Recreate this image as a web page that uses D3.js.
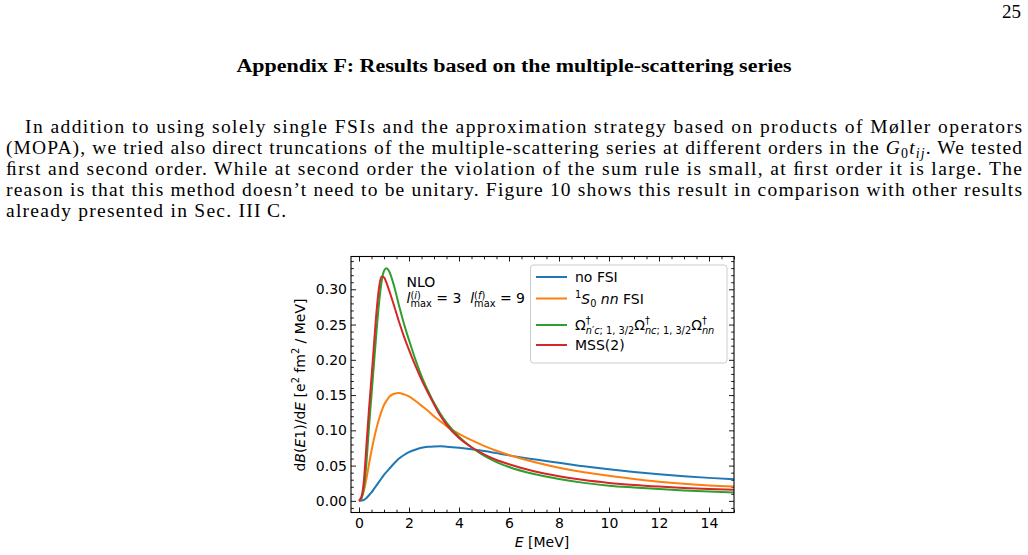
<!DOCTYPE html>
<html><head><meta charset="utf-8">
<script src="https://cdn.jsdelivr.net/npm/d3@7"></script>
<style>body{margin:0;background:#fff;} svg{display:block}</style>
</head><body>
<svg id="c" width="1028" height="555"></svg>
<script>
// ---------- data ----------
const energies = [0, 0.1, 0.2, 0.3, 0.4, 0.5, 0.6, 0.7, 0.8, 0.9, 1.0, 1.1, 1.2,
  1.4, 1.6, 1.8, 2.0, 2.25, 2.5, 2.75, 3.0, 3.25, 3.5,
  4.0, 4.5, 5.0, 5.5, 6.0, 7.0, 8.0, 9.0, 10.0, 11.0, 12.0, 13.0, 14.0, 15.0];
const noFSI = [0, 0.0004, 0.0015, 0.004, 0.008, 0.012, 0.017, 0.022, 0.027, 0.032, 0.037, 0.041, 0.045,
  0.053, 0.060, 0.065, 0.069, 0.0725, 0.0752, 0.0766, 0.0772, 0.0773, 0.0768,
  0.0753, 0.0733, 0.0707, 0.0677, 0.0645, 0.0590, 0.0540, 0.0490, 0.0447, 0.0410, 0.0378, 0.0350, 0.0326, 0.0305];
const s0FSI = [0, 0.004, 0.015, 0.032, 0.052, 0.071, 0.088, 0.103, 0.116, 0.127, 0.136, 0.142, 0.147,
  0.152, 0.153, 0.151, 0.148, 0.142, 0.135, 0.128, 0.120, 0.113, 0.106,
  0.095, 0.086, 0.078, 0.071, 0.065, 0.055, 0.047, 0.0405, 0.0355, 0.031, 0.0272, 0.0242, 0.0218, 0.0202];
const mopa = [0, 0.004, 0.020, 0.055, 0.105, 0.150, 0.195, 0.240, 0.280, 0.310, 0.326, 0.330, 0.326,
  0.305, 0.277, 0.251, 0.228, 0.201, 0.177, 0.157, 0.139, 0.124, 0.111,
  0.091, 0.076, 0.064, 0.055, 0.048, 0.038, 0.031, 0.0255, 0.0215, 0.019, 0.0168, 0.0148, 0.0132, 0.0120];
const mss2 = [0, 0.006, 0.030, 0.080, 0.130, 0.175, 0.222, 0.268, 0.302, 0.318, 0.317, 0.309, 0.299,
  0.277, 0.254, 0.233, 0.214, 0.192, 0.172, 0.154, 0.137, 0.121, 0.108,
  0.089, 0.076, 0.066, 0.058, 0.052, 0.042, 0.035, 0.0295, 0.0255, 0.0225, 0.0202, 0.0183, 0.0168, 0.0156];
const seriesColors = ["#1f77b4", "#ff7f0e", "#2ca02c", "#d62728"];
const xTicks = [0, 2, 4, 6, 8, 10, 12, 14];
const yTicks = [0.00, 0.05, 0.10, 0.15, 0.20, 0.25, 0.30];
const pageNumber = "25";
const heading = "Appendix F: Results based on the multiple-scattering series";
const bodyLines = [
  "In addition to using solely single FSIs and the approximation strategy based on products of M\u00f8ller operators",
  "(MOPA), we tried also direct truncations of the multiple-scattering series at different orders in the G0tij. We tested",
  "\ufb01rst and second order. While at second order the violation of the sum rule is small, at \ufb01rst order it is large. The",
  "reason is that this method doesn\u2019t need to be unitary. Figure 10 shows this result in comparison with other results",
  "already presented in Sec. III\u2009C."
];

// ---------- page ----------
const svg = d3.select("#c");
svg.append("rect").attr("width", 1028).attr("height", 555).attr("fill", "#fff");
const serif = "'Liberation Serif', 'DejaVu Serif', serif";
const sans = "'DejaVu Sans', sans-serif";

svg.append("text").attr("x", 1021).attr("y", 18).attr("text-anchor", "end")
  .attr("font-family", serif).attr("font-size", 19).text(pageNumber);
svg.append("text").attr("x", 514).attr("y", 72).attr("text-anchor", "middle")
  .attr("font-family", serif).attr("font-weight", "bold").attr("font-size", 18)
  .attr("textLength", 555).attr("lengthAdjust", "spacingAndGlyphs").text(heading);

const bodyX = [25, 6, 6, 6, 6];
const bodyY = [133, 154, 175, 196, 217];
let spacingRatio = [];
bodyLines.forEach((line, i) => {
  const t = svg.append("text").attr("x", bodyX[i]).attr("y", bodyY[i])
    .attr("font-family", serif).attr("font-size", 19.5).attr("fill", "#000");
  if (line.includes("G0tij")) {
    const [a, b] = line.split("G0tij");
    t.append("tspan").text(a);
    t.append("tspan").attr("font-style", "italic").text("G");
    t.append("tspan").attr("font-size", 14).attr("dy", 4).text("0");
    t.append("tspan").attr("font-style", "italic").attr("dy", -4).text("t");
    t.append("tspan").attr("font-style", "italic").attr("font-size", 14).attr("dy", 4).text("ij");
    t.append("tspan").attr("dy", -4).text(b);
  } else {
    t.text(line);
  }
  const natural = t.node().getComputedTextLength();
  if (i < 4) {
    const target = 1022 - bodyX[i];
    t.attr("textLength", target).attr("lengthAdjust", "spacing");
    spacingRatio.push((target - natural) / line.length);
  } else {
    t.attr("letter-spacing", d3.mean(spacingRatio));
  }
});

// ---------- chart ----------
const L = 351, R = 734, T = 256.5, B = 512.5;
const x = d3.scaleLinear().domain([-0.32, 15]).range([L, R]);
const y = d3.scaleLinear().domain([-0.0165, 0.3465]).range([B, T]);

function styleAxis(g) {
  g.select(".domain").remove();
  g.selectAll("line").attr("stroke", "#000").attr("stroke-width", 0.9);
  g.selectAll("text").attr("font-family", sans).attr("font-size", 14).attr("fill", "#000");
}
const xMinor = d3.range(0, 15.001, 0.5).filter(v => Math.abs(v / 2 - Math.round(v / 2)) > 1e-6);
const yMinor = d3.range(-1, 35).map(v => v / 100).filter(v => Math.round(v * 100) % 5 !== 0);

svg.append("g").attr("transform", `translate(0,${B})`)
  .call(d3.axisBottom(x).tickValues(xTicks).tickSizeInner(-5).tickSizeOuter(0).tickPadding(6).tickFormat(d3.format("d"))).call(styleAxis);
svg.append("g").attr("transform", `translate(0,${B})`)
  .call(d3.axisBottom(x).tickValues(xMinor).tickSizeInner(-2.8).tickSizeOuter(0).tickFormat("")).call(styleAxis);
svg.append("g").attr("transform", `translate(0,${T})`)
  .call(d3.axisTop(x).tickValues(xTicks).tickSizeInner(-5).tickSizeOuter(0).tickFormat("")).call(styleAxis);
svg.append("g").attr("transform", `translate(0,${T})`)
  .call(d3.axisTop(x).tickValues(xMinor).tickSizeInner(-2.8).tickSizeOuter(0).tickFormat("")).call(styleAxis);
svg.append("g").attr("transform", `translate(${L},0)`)
  .call(d3.axisLeft(y).tickValues(yTicks).tickSizeInner(-5).tickSizeOuter(0).tickPadding(4).tickFormat(d3.format(".2f"))).call(styleAxis);
svg.append("g").attr("transform", `translate(${L},0)`)
  .call(d3.axisLeft(y).tickValues(yMinor).tickSizeInner(-2.8).tickSizeOuter(0).tickFormat("")).call(styleAxis);
svg.append("g").attr("transform", `translate(${R},0)`)
  .call(d3.axisRight(y).tickValues(yTicks).tickSizeInner(-5).tickSizeOuter(0).tickFormat("")).call(styleAxis);
svg.append("g").attr("transform", `translate(${R},0)`)
  .call(d3.axisRight(y).tickValues(yMinor).tickSizeInner(-2.8).tickSizeOuter(0).tickFormat("")).call(styleAxis);

svg.append("clipPath").attr("id", "clip").append("rect")
  .attr("x", L).attr("y", T).attr("width", R - L).attr("height", B - T);

const allSeries = [noFSI, s0FSI, mopa, mss2];
const line = d3.line().x((d, i) => x(energies[i])).y(d => y(d)).curve(d3.curveMonotoneX);
allSeries.forEach((s, k) => {
  svg.append("path").datum(s).attr("d", line).attr("fill", "none")
    .attr("stroke", seriesColors[k]).attr("stroke-width", 2).attr("clip-path", "url(#clip)");
});

svg.append("rect").attr("x", L).attr("y", T).attr("width", R - L).attr("height", B - T)
  .attr("fill", "none").attr("stroke", "#000").attr("stroke-width", 1.1);

// math text helper: one <text> element, tspans positioned absolutely
function mathText(parent, x0, y0, pieces, base, anchor) {
  const g = parent.append("g");
  const txt = g.append("text").attr("font-family", sans).attr("font-size", base).attr("fill", "#000");
  let cx = 0, maxX = 0, markX = 0;
  pieces.forEach(p => {
    const scr = p.sup || p.sub;
    if (!scr) cx = maxX;
    if (p.back) cx = markX;
    if (p.mark) markX = cx;
    const size = scr ? base * 0.7 : base;
    let dy = p.sup ? -base * 0.42 : p.sub ? base * 0.25 : 0;
    if (p.dy !== undefined) dy = p.dy;
    const ts = txt.append("tspan").attr("x", cx).attr("y", dy)
      .attr("font-size", size)
      .attr("font-style", p.it ? "italic" : "normal").text(p.t.replace(/ /g, "\u00a0"));
    cx += ts.node().getComputedTextLength();
    maxX = Math.max(maxX, cx);
  });
  const shift = anchor === "middle" ? -maxX / 2 : 0;
  g.attr("transform", `translate(${x0 + shift},${y0})`);
  return g;
}

// axis labels
mathText(svg, 542, 547, [{t: "E", it: true}, {t: " [MeV]"}], 14, "middle");
const yl = svg.append("g").attr("transform", "translate(305,385) rotate(-90)");
mathText(yl, 0, 0, [{t: "d"}, {t: "B", it: true}, {t: "("}, {t: "E", it: true}, {t: "1)/d"}, {t: "E", it: true},
  {t: " [e"}, {t: "2", sup: true}, {t: " fm"}, {t: "2", sup: true}, {t: " / MeV]"}], 14, "middle");

// annotation
mathText(svg, 406.5, 287, [{t: "NLO"}], 14);
mathText(svg, 406.5, 303, [
  {t: "l", it: true}, {t: "(", sup: true, mark: true, dy: -4.5}, {t: "i", sup: true, it: true, dy: -4.5}, {t: ")", sup: true, dy: -4.5},
  {t: "max", sub: true, back: true, dy: 4},
  {t: " = 3  "},
  {t: "l", it: true}, {t: "(", sup: true, mark: true, dy: -4.5}, {t: "f", sup: true, it: true, dy: -4.5}, {t: ")", sup: true, dy: -4.5},
  {t: "max", sub: true, back: true, dy: 4},
  {t: " = 9"}], 14);

// legend
svg.append("rect").attr("x", 530.5).attr("y", 265).attr("width", 196.5).attr("height", 98)
  .attr("rx", 3).attr("fill", "#fff").attr("fill-opacity", 0.8).attr("stroke", "#cccccc").attr("stroke-width", 1);
const legendY = [277, 298.5, 325, 345];
const legendLabels = [
  [{t: "no FSI"}],
  [{t: "1", sup: true}, {t: "S", it: true}, {t: "0", sub: true}, {t: " "}, {t: "nn", it: true}, {t: " FSI"}],
  [{t: "\u03a9"}, {t: "\u2020", sup: true, mark: true}, {t: "n", sub: true, back: true, it: true}, {t: "\u2032", sub: true},
   {t: "c", sub: true, it: true}, {t: "; 1, 3/2", sub: true},
   {t: "\u03a9"}, {t: "\u2020", sup: true, mark: true}, {t: "nc", sub: true, back: true, it: true}, {t: "; 1, 3/2", sub: true},
   {t: "\u03a9"}, {t: "\u2020", sup: true, mark: true}, {t: "nn", sub: true, back: true, it: true}],
  [{t: "MSS(2)"}]
];
legendY.forEach((ly, k) => {
  svg.append("line").attr("x1", 536).attr("x2", 567).attr("y1", ly).attr("y2", ly)
    .attr("stroke", seriesColors[k]).attr("stroke-width", 2);
  mathText(svg, 575, ly + 5, legendLabels[k], 14);
});
</script>
</body></html>
